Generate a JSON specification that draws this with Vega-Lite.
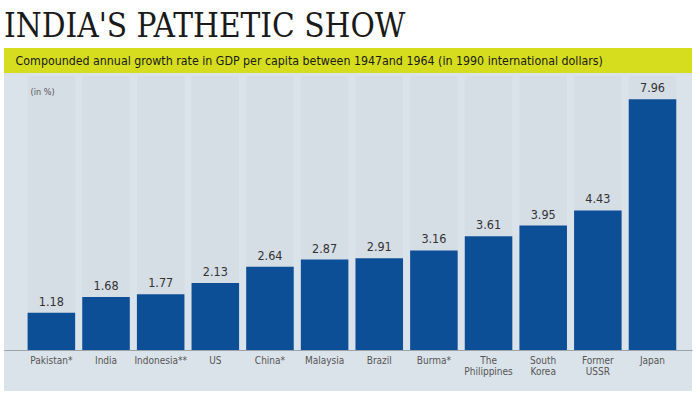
{
  "$schema": "https://vega.github.io/schema/vega-lite/v6.json",
  "width": 688,
  "height": 343,
  "padding": {"left": 4, "right": 8, "top": 11, "bottom": 3},
  "background": "#ffffff",
  "title": {
    "text": "INDIA'S PATHETIC SHOW",
    "anchor": "start",
    "font": "DejaVu Serif Condensed, Liberation Serif, serif",
    "fontSize": 33,
    "fontWeight": "normal",
    "color": "#1a1a1a",
    "offset": 4
  },
  "config": {
    "view": {"fill": "#dbe3ea", "stroke": null},
    "font": "Liberation Sans Narrow, DejaVu Sans Condensed, Roboto, sans-serif"
  },
  "datasets": {
    "growth": [
      {"country": "Pakistan*", "rate": 1.18},
      {"country": "India", "rate": 1.68},
      {"country": "Indonesia**", "rate": 1.77},
      {"country": "US", "rate": 2.13},
      {"country": "China*", "rate": 2.64},
      {"country": "Malaysia", "rate": 2.87},
      {"country": "Brazil", "rate": 2.91},
      {"country": "Burma*", "rate": 3.16},
      {"country": "The Philippines", "rate": 3.61},
      {"country": "South Korea", "rate": 3.95},
      {"country": "Former USSR", "rate": 4.43},
      {"country": "Japan", "rate": 7.96}
    ],
    "notes": [
      {"subtitle": "Compounded annual growth rate in GDP per capita between 1947and 1964 (in 1990 international dollars)", "unit": "(in %)"}
    ]
  },
  "data": {"name": "growth"},
  "layer": [
    {
      "mark": {"type": "bar", "color": "#d5dde5"},
      "encoding": {
        "x": {
          "field": "country",
          "type": "nominal",
          "sort": null,
          "scale": {"paddingInner": 0.13, "paddingOuter": 0.36, "align": 0.6},
          "axis": {
            "title": null,
            "orient": "bottom",
            "offset": -41,
            "ticks": false,
            "domainColor": "#9aa3ab",
            "domainWidth": 1,
            "labelAngle": 0,
            "labelFontSize": 10,
            "labelColor": "#555555",
            "labelPadding": 5,
            "labelLineHeight": 11,
            "labelExpr": "indexof(datum.label, ' ') > 0 ? split(datum.label, ' ') : datum.label"
          }
        },
        "y": {
          "datum": 8.7,
          "type": "quantitative",
          "scale": {"domain": [-1.302, 9.587], "nice": false, "zero": false},
          "axis": null
        }
      }
    },
    {
      "mark": {"type": "bar", "color": "#0c4f97"},
      "encoding": {
        "x": {"field": "country", "type": "nominal", "sort": null},
        "y": {"field": "rate", "type": "quantitative"}
      }
    },
    {
      "mark": {"type": "text", "baseline": "bottom", "dy": -4, "fontSize": 12.5, "color": "#333333"},
      "encoding": {
        "x": {"field": "country", "type": "nominal", "sort": null},
        "y": {"field": "rate", "type": "quantitative"},
        "text": {"field": "rate", "type": "quantitative", "format": ".2f"}
      }
    },
    {
      "data": {"name": "notes"},
      "mark": {"type": "rect", "color": "#d6dd1e"},
      "encoding": {
        "y": {"datum": 8.794, "type": "quantitative"},
        "y2": {"datum": 9.587}
      }
    },
    {
      "data": {"name": "notes"},
      "mark": {"type": "text", "align": "left", "baseline": "middle", "dx": -12, "fontSize": 12.3, "color": "#1a1a1a"},
      "encoding": {
        "x": {"datum": "Pakistan*", "type": "nominal", "bandPosition": 0},
        "y": {"datum": 9.19, "type": "quantitative"},
        "text": {"field": "subtitle"}
      }
    },
    {
      "data": {"name": "notes"},
      "mark": {"type": "text", "align": "left", "baseline": "middle", "dx": 3, "fontSize": 9, "color": "#555555"},
      "encoding": {
        "x": {"datum": "Pakistan*", "type": "nominal", "bandPosition": 0},
        "y": {"datum": 8.19, "type": "quantitative"},
        "text": {"field": "unit"}
      }
    }
  ]
}
